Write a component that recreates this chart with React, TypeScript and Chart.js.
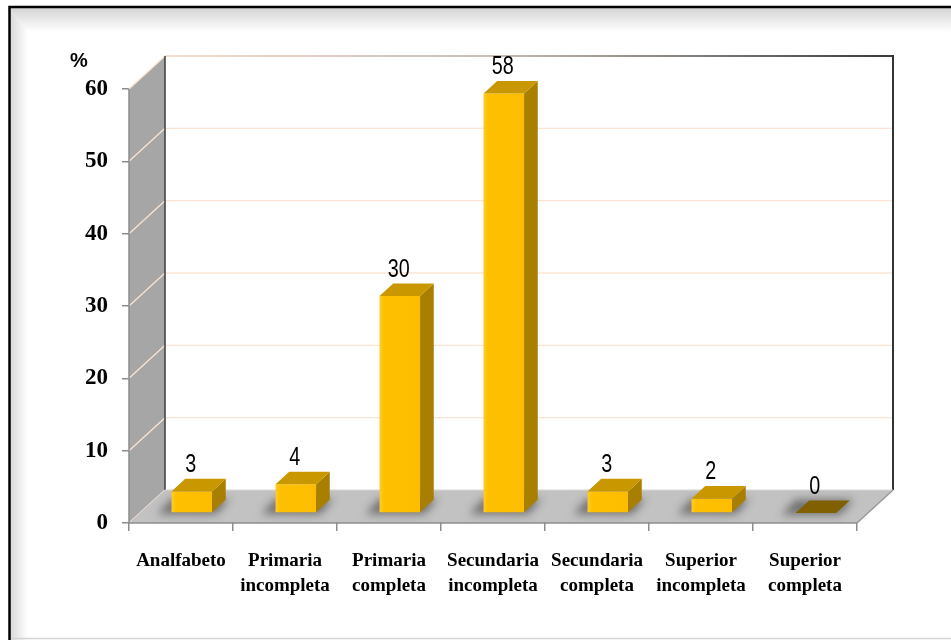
import React, { useEffect, useRef } from 'react';
import { Chart, registerables } from 'chart.js';

Chart.register(...registerables);

// Education level categories (two-line labels) and their shares in %
const categories: string[][] = [
  ['Analfabeto'],
  ['Primaria', 'incompleta'],
  ['Primaria', 'completa'],
  ['Secundaria', 'incompleta'],
  ['Secundaria', 'completa'],
  ['Superior', 'incompleta'],
  ['Superior', 'completa'],
];
const percentages: number[] = [3, 4, 30, 58, 3, 2, 0];
const yTickValues: number[] = [0, 10, 20, 30, 40, 50, 60];
const unitLabel = '%';

// Depth of the pseudo-3D box (back wall offset) and bar position inside it
const DEPTH_X = 36;
const DEPTH_Y = 33;
const BAR_FRONT = 0.3;
const BAR_BACK = 0.68;

type Pt = [number, number];

function fillPoly(ctx: CanvasRenderingContext2D, pts: Pt[], fill: string | CanvasGradient) {
  ctx.beginPath();
  ctx.moveTo(pts[0][0], pts[0][1]);
  for (let i = 1; i < pts.length; i++) ctx.lineTo(pts[i][0], pts[i][1]);
  ctx.closePath();
  ctx.fillStyle = fill;
  ctx.fill();
}

function line(ctx: CanvasRenderingContext2D, a: Pt, b: Pt, color: string | CanvasGradient, width: number) {
  ctx.beginPath();
  ctx.moveTo(a[0], a[1]);
  ctx.lineTo(b[0], b[1]);
  ctx.strokeStyle = color;
  ctx.lineWidth = width;
  ctx.stroke();
}

const scenePlugin = {
  id: 'scene3d',
  beforeDraw(chart: any) {
    const ctx: CanvasRenderingContext2D = chart.ctx;
    const W = chart.width;
    const H = chart.height;
    ctx.save();
    ctx.fillStyle = '#ffffff';
    ctx.fillRect(0, 0, W, H);
    // soft inner shading of the frame (top and left bands, mitred at the corner)
    let g = ctx.createLinearGradient(0, 8, 0, 32);
    g.addColorStop(0, 'rgba(0,0,0,0.17)');
    g.addColorStop(1, 'rgba(0,0,0,0)');
    fillPoly(ctx, [[10, 8], [W, 8], [W, 32], [28, 32]], g);
    g = ctx.createLinearGradient(10, 0, 28, 0);
    g.addColorStop(0, 'rgba(0,0,0,0.15)');
    g.addColorStop(1, 'rgba(0,0,0,0)');
    fillPoly(ctx, [[10, 8], [28, 32], [28, H], [10, H]], g);
    // frame border
    ctx.strokeStyle = '#000';
    ctx.lineWidth = 2.5;
    ctx.beginPath();
    ctx.moveTo(9.5, H);
    ctx.lineTo(9.5, 7);
    ctx.lineTo(W, 7);
    ctx.stroke();
    line(ctx, [11, H - 1.5], [W, H - 1.5], '#d4d4d4', 1.5);
    ctx.restore();
  },
  beforeDatasetsDraw(chart: any) {
    const ctx: CanvasRenderingContext2D = chart.ctx;
    const { left, right, top, bottom } = chart.chartArea;
    const ys = chart.scales.y;
    ctx.save();
    // side wall
    fillPoly(ctx, [[left, top], [left + DEPTH_X, top - DEPTH_Y], [left + DEPTH_X, bottom - DEPTH_Y], [left, bottom]], '#a6a6a6');
    // gridlines on back wall and side wall
    yTickValues.forEach((v) => {
      const y = ys.getPixelForValue(v);
      if (v > 0 && v < 60) {
        line(ctx, [left + DEPTH_X, y - DEPTH_Y], [right + DEPTH_X, y - DEPTH_Y], '#fbe4d5', 1.3);
      }
      line(ctx, [left, y], [left + DEPTH_X, y - DEPTH_Y], '#fbe4d5', 1.3);
    });
    // back wall top edge and right edge
    const tg = ctx.createLinearGradient(left + DEPTH_X, 0, right + DEPTH_X, 0);
    tg.addColorStop(0, '#f3ddd0');
    tg.addColorStop(0.45, '#c8bdb4');
    tg.addColorStop(0.7, '#8a8580');
    tg.addColorStop(1, '#3a3a3a');
    line(ctx, [left + DEPTH_X, top - DEPTH_Y], [right + DEPTH_X, top - DEPTH_Y], tg, 2);
    line(ctx, [right + DEPTH_X, top - DEPTH_Y - 1], [right + DEPTH_X, bottom - DEPTH_Y], '#333333', 2);
    line(ctx, [left + DEPTH_X, top - DEPTH_Y], [left + DEPTH_X, bottom - DEPTH_Y], '#3c3c3c', 1.5);
    // floor
    fillPoly(ctx, [[left, bottom], [left + DEPTH_X, bottom - DEPTH_Y], [right + DEPTH_X, bottom - DEPTH_Y], [right, bottom]], '#c2c2c2');
    line(ctx, [left + DEPTH_X, bottom - DEPTH_Y], [right + DEPTH_X, bottom - DEPTH_Y], '#d6d6d6', 1);
    line(ctx, [right, bottom], [right + DEPTH_X, bottom - DEPTH_Y], '#9a9a9a', 1.5);
    // bar shadows on the floor
    const meta = chart.getDatasetMeta(0);
    ctx.filter = 'blur(4px)';
    meta.data.forEach((el: any) => {
      const { x, base, width } = el.getProps(['x', 'base', 'width'], true);
      const hw = width / 2;
      const fx = BAR_FRONT * DEPTH_X, fy = BAR_FRONT * DEPTH_Y;
      const bx = BAR_BACK * DEPTH_X, by = BAR_BACK * DEPTH_Y;
      const sx = -10;
      fillPoly(ctx, [
        [x - hw + fx + sx - 4, base - fy + 2],
        [x - hw + bx + sx - 4, base - by - 1],
        [x + hw + bx + 4, base - by - 1],
        [x + hw + fx + 4, base - fy + 2],
      ], 'rgba(70,70,70,0.65)');
    });
    ctx.filter = 'none';
    // axis lines
    line(ctx, [left, top], [left, bottom], '#8c8c8c', 1.5);
    line(ctx, [left, bottom], [right, bottom], '#8c8c8c', 1.5);
    // unit label
    ctx.fillStyle = '#000';
    ctx.font = 'bold 20px "Liberation Sans", Arial, sans-serif';
    ctx.textAlign = 'center';
    ctx.textBaseline = 'alphabetic';
    ctx.fillText(unitLabel, 79, 67);
    ctx.restore();
  },
  afterDatasetsDraw(chart: any) {
    const ctx: CanvasRenderingContext2D = chart.ctx;
    const meta = chart.getDatasetMeta(0);
    const values: number[] = chart.data.datasets[0].data;
    ctx.save();
    meta.data.forEach((el: any, i: number) => {
      const { x, y, base, width } = el.getProps(['x', 'y', 'base', 'width'], true);
      const hw = width / 2;
      const fx = BAR_FRONT * DEPTH_X, fy = BAR_FRONT * DEPTH_Y;
      const bx = BAR_BACK * DEPTH_X, by = BAR_BACK * DEPTH_Y;
      const l = x - hw, r = x + hw;
      if (values[i] > 0) {
        // front face
        const fg = ctx.createLinearGradient(l + fx, 0, r + fx, 0);
        fg.addColorStop(0, '#ffcb26');
        fg.addColorStop(0.12, '#ffc000');
        fg.addColorStop(1, '#fcbd00');
        fillPoly(ctx, [[l + fx, y - fy], [r + fx, y - fy], [r + fx, base - fy], [l + fx, base - fy]], fg);
        // right side
        fillPoly(ctx, [[r + fx, y - fy], [r + bx, y - by], [r + bx, base - by], [r + fx, base - fy]], '#a87f00');
        // top
        fillPoly(ctx, [[l + fx, y - fy], [l + bx, y - by], [r + bx, y - by], [r + fx, y - fy]], '#c99800');
      } else {
        fillPoly(ctx, [[l + fx, y - fy], [l + bx, y - by], [r + bx, y - by], [r + fx, y - fy]], '#806000');
      }
      // value label in a condensed sans face
      ctx.save();
      ctx.translate(x + fx - 1, y - by - 7);
      ctx.scale(0.76, 1);
      ctx.fillStyle = '#000';
      ctx.font = '26px "Liberation Sans", Arial, sans-serif';
      ctx.textAlign = 'center';
      ctx.textBaseline = 'alphabetic';
      ctx.fillText(String(values[i]), 0, 0);
      ctx.restore();
    });
    ctx.restore();
  },
};

export default function App() {
  const canvasRef = useRef<HTMLCanvasElement | null>(null);

  useEffect(() => {
    const canvas = canvasRef.current;
    if (!canvas) return;
    const chart = new Chart(canvas, {
      type: 'bar',
      data: {
        labels: categories,
        datasets: [
          {
            data: percentages,
            backgroundColor: 'rgba(0,0,0,0)',
            borderWidth: 0,
            barPercentage: 0.39,
            categoryPercentage: 1,
          },
        ],
      },
      options: {
        responsive: false,
        animation: false,
        devicePixelRatio: 1,
        layout: { padding: { top: 89, right: 94, left: 0, bottom: 0 } },
        plugins: {
          legend: { display: false },
          tooltip: { enabled: false },
          title: { display: false },
        },
        scales: {
          x: {
            afterFit: (s: any) => {
              s.height = 117;
            },
            grid: {
              drawOnChartArea: false,
              drawTicks: true,
              tickLength: 8,
              color: '#8c8c8c',
              lineWidth: 1.5,
              offset: true,
            },
            border: { display: false },
            ticks: {
              color: '#000',
              padding: 17,
              maxRotation: 0,
              autoSkip: false,
              font: { family: '"Liberation Serif", "DejaVu Serif", serif', size: 19, weight: 'bold', lineHeight: 1.35 },
            },
          },
          y: {
            min: 0,
            max: 60,
            afterFit: (s: any) => {
              s.width = 129;
            },
            afterBuildTicks: (s: any) => {
              s.ticks = yTickValues.map((v) => ({ value: v }));
            },
            grid: {
              drawOnChartArea: false,
              drawTicks: true,
              tickLength: 7,
              color: '#8c8c8c',
              lineWidth: 1.5,
            },
            border: { display: false },
            ticks: {
              color: '#000',
              padding: 14,
              font: { family: '"Liberation Serif", "DejaVu Serif", serif', size: 23, weight: 'bold' },
            },
          },
        },
      },
      plugins: [scenePlugin],
    });
    return () => chart.destroy();
  }, []);

  return (
    <div style={{ position: 'absolute', left: 0, top: 0, width: 951, height: 640 }}>
      <canvas ref={canvasRef} width={951} height={640} style={{ display: 'block' }} />
    </div>
  );
}
